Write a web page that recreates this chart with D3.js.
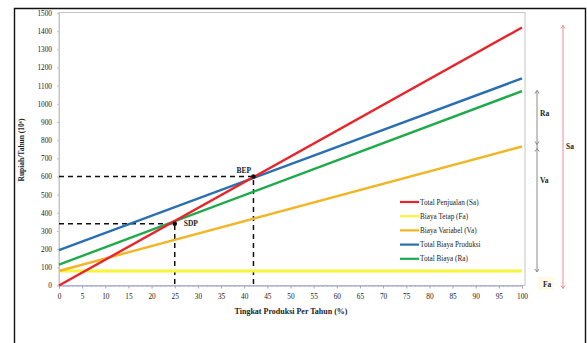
<!DOCTYPE html>
<html>
<head>
<meta charset="utf-8">
<script src="https://cdn.jsdelivr.net/npm/d3@7/dist/d3.min.js"></script>
<style>
  html, body { margin: 0; padding: 0; background: #fff; }
  svg { display: block; }
  text { font-family: "Liberation Serif", "DejaVu Serif", serif; fill: #222; }
</style>
</head>
<body>
<svg id="chart" width="587" height="343"></svg>
<script>
// Production levels (% of capacity) and the tick labels
const xTicks = d3.range(0, 101, 5);
const yTicks = d3.range(0, 1501, 100);

// Each series is a straight line: value at 0% and at 100% production
const seriesNames = ["Total Penjualan (Sa)", "Biaya Tetap (Fa)", "Biaya Variabel (Va)", "Total Biaya Produksi", "Total Biaya (Ra)"];
const seriesX = [0, 100];
const salesSa = [0, 1420];
const fixedFa = [80, 80];
const variableVa = [80, 765];
const productionCost = [195, 1140];
const totalCostRa = [115, 1070];
const seriesColors = ["#e8252b", "#f7f43c", "#f2b523", "#2a6fb0", "#20aa4c"];

// Marked points: SDP and BEP
const markNames = ["SDP", "BEP"];
const markX = [25, 42];
const markY = [340, 600];

const svg = d3.select("#chart");

const x = d3.scaleLinear().domain([0, 100]).range([59, 522]);
const y = d3.scaleLinear().domain([0, 1500]).range([285.5, 13]);

// outer frame
svg.append("path")
  .attr("d", "M14.5,343 V8.5 H585.5 V343")
  .attr("fill", "none").attr("stroke", "#111").attr("stroke-width", 1.4);

// plot area border
svg.append("rect")
  .attr("x", 59).attr("y", 12.5).attr("width", 466).attr("height", 273)
  .attr("fill", "none").attr("stroke", "#c4c4c4").attr("stroke-width", 1);

// axes
const xAxis = d3.axisBottom(x).tickValues(xTicks).tickFormat(d3.format("d")).tickSize(3).tickPadding(5);
const gx = svg.append("g").attr("transform", `translate(0,${y(0)})`).call(xAxis);
gx.select(".domain").attr("stroke", "#9aa6c8");
gx.selectAll(".tick line").attr("stroke", "#9aa6c8");
gx.selectAll("text").attr("font-size", 7.3).attr("font-family", "Liberation Serif").attr("fill", "#333");
// minor ticks
svg.append("g").selectAll("line").data(d3.range(1, 100).filter(v => v % 5))
  .join("line")
  .attr("x1", d => x(d)).attr("x2", d => x(d))
  .attr("y1", y(0)).attr("y2", y(0) + 1.5)
  .attr("stroke", "#9aa6c8").attr("stroke-width", 0.6);

const yAxis = d3.axisLeft(y).tickValues(yTicks).tickFormat(d3.format("d")).tickSize(2).tickPadding(5);
const gy = svg.append("g").attr("transform", `translate(${x(0)},0)`).call(yAxis);
gy.select(".domain").attr("stroke", "#c4c4c4");
gy.selectAll(".tick line").attr("stroke", "#c4c4c4");
gy.selectAll("text").attr("font-size", 7.3).attr("font-family", "Liberation Serif").attr("fill", "#333");

// axis titles
svg.append("text")
  .attr("transform", `translate(24,${150}) rotate(-90)`)
  .attr("text-anchor", "middle").attr("font-size", 7.5).attr("font-weight", "bold")
  .text("Rupiah/Tahun (10⁶)");
svg.append("text")
  .attr("x", 291).attr("y", 314)
  .attr("text-anchor", "middle").attr("font-size", 8).attr("font-weight", "bold")
  .text("Tingkat  Produksi Per Tahun (%)");

// dashed guides to the marked points
const guides = svg.append("g").attr("stroke", "#111").attr("stroke-width", 1.5)
  .attr("stroke-dasharray", "5,4").attr("fill", "none");
markX.forEach((mx, i) => {
  guides.append("path")
    .attr("d", `M${x(0)},${y(markY[i])} H${x(mx)} V${y(0)}`);
});

// series lines
const allSeries = [salesSa, fixedFa, variableVa, productionCost, totalCostRa];
const line = d3.line().x((d, i) => x(seriesX[i])).y(d => y(d));
const drawOrder = [1, 2, 4, 3, 0];
drawOrder.forEach(i => {
  svg.append("path")
    .datum(allSeries[i])
    .attr("d", line)
    .attr("fill", "none")
    .attr("stroke", seriesColors[i])
    .attr("stroke-width", i === 1 ? 3 : 2.4);
});

// marked points
markX.forEach((mx, i) => {
  svg.append("circle").attr("cx", x(mx)).attr("cy", y(markY[i])).attr("r", 2.3).attr("fill", "#111");
});
svg.append("text").attr("x", x(markX[0]) + 9).attr("y", y(markY[0]) + 2)
  .attr("font-size", 7.5).attr("font-weight", "bold").text(markNames[0]);
svg.append("text").attr("x", x(markX[1]) - 17).attr("y", y(markY[1]) - 4)
  .attr("font-size", 7.5).attr("font-weight", "bold").text(markNames[1]);

// legend
const legend = svg.append("g").attr("transform", "translate(400,202)");
seriesNames.forEach((name, i) => {
  const g = legend.append("g").attr("transform", `translate(0,${i * 14.2})`);
  g.append("line").attr("x1", 0).attr("x2", 19).attr("y1", 0).attr("y2", 0)
    .attr("stroke", seriesColors[i]).attr("stroke-width", 2.2);
  g.append("text").attr("x", 20).attr("y", 2.6).attr("font-size", 7.2).text(name);
});

// right-hand brackets: Ra / Va / Fa (grey) and Sa (red)
const bx = 537;
const br = svg.append("g").attr("stroke", "#8a8a8a").attr("stroke-width", 1).attr("fill", "none");
br.append("line").attr("x1", bx).attr("x2", bx).attr("y1", y(productionCost[1]) + 12).attr("y2", y(fixedFa[1]) + 1);
[[y(productionCost[1]) + 12, -1], [y(variableVa[1]) - 2, 1], [y(variableVa[1]) + 2, -1], [y(fixedFa[1]) + 1, 1]].forEach(([yy, dir]) => {
  br.append("path").attr("d", `M${bx - 2},${yy - dir * 3} L${bx},${yy} L${bx + 2},${yy - dir * 3}`);
});
const sx = 563;
const sr = svg.append("g").attr("stroke", "#f08a95").attr("stroke-width", 1).attr("fill", "none");
sr.append("line").attr("x1", sx).attr("x2", sx).attr("y1", y(salesSa[1]) - 2).attr("y2", y(0) + 3);
sr.append("path").attr("d", `M${sx - 2},${y(salesSa[1]) + 1} L${sx},${y(salesSa[1]) - 2} L${sx + 2},${y(salesSa[1]) + 1}`);
sr.append("path").attr("d", `M${sx - 2},${y(0)} L${sx},${y(0) + 3} L${sx + 2},${y(0)}`);

svg.append("rect").attr("x", 538).attr("y", 277).attr("width", 16).attr("height", 13).attr("fill", "#fdfbe6");
const bl = [["Ra", 540, 116], ["Va", 540, 183], ["Fa", 543, 287], ["Sa", 566, 149]];
bl.forEach(([t, lx, ly]) => {
  svg.append("text").attr("x", lx).attr("y", ly).attr("font-size", 7.5).attr("font-weight", "bold").text(t);
});
</script>
</body>
</html>
